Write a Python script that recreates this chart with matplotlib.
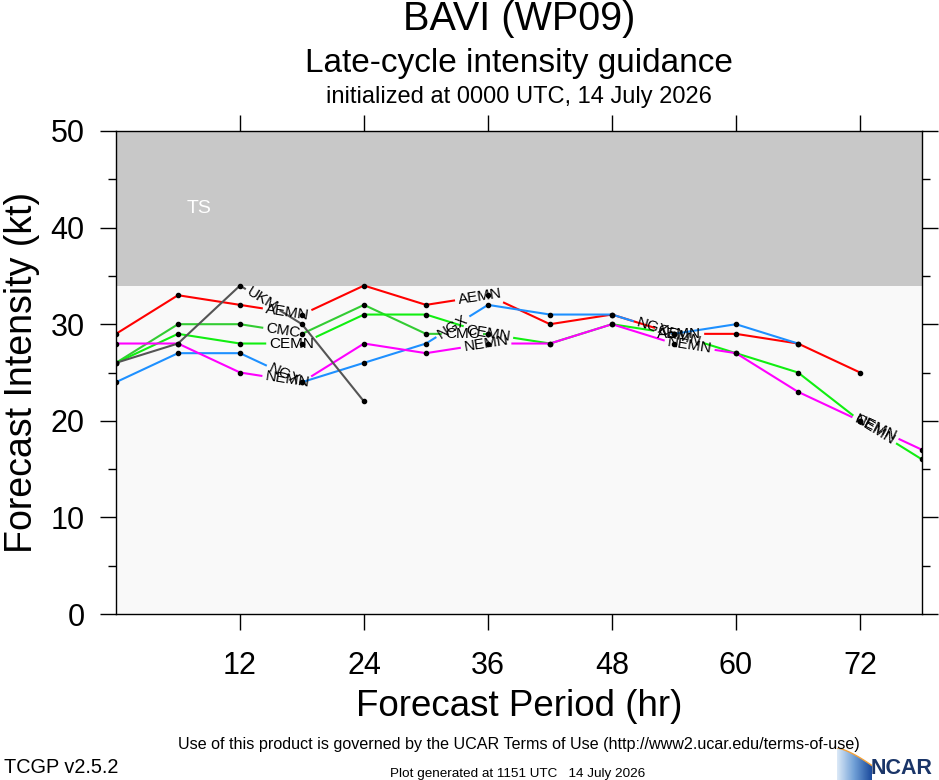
import numpy as np
import matplotlib
matplotlib.use("Agg")
from matplotlib import pyplot as plt
from matplotlib.colors import LinearSegmentedColormap
from matplotlib.patches import Polygon

plt.rcParams["font.family"] = ["Liberation Sans", "DejaVu Sans"]

# forecast hours (every 6 h) and model intensity guidance (kt)
hours = [0, 6, 12, 18, 24, 30, 36, 42, 48, 54, 60, 66, 72, 78]
aemn = [29, 33, 32, 31, 34, 32, 33, 30, 31, 29, 29, 28, 25]
cmc = [26, 30, 30, 29, 32, 29, 29]
cemn = [26, 29, 28, 28, 31, 31, 29, 28, 30, 29, 27, 25, 20, 16]
ngx = [24, 27, 27, 24, 26, 28, 32, 31, 31, 29, 30, 28]
nemn = [28, 28, 25, 24, 28, 27, 28, 28, 30, 28, 27, 23, 20, 17]
ukm = [26, 28, 34, 30, 22]

models = ["AEMN", "CMC", "CEMN", "NGX", "NEMN", "UKM"]
values = [aemn, cmc, cemn, ngx, nemn, ukm]
colors = ["#ff0000", "#33cc33", "#11ee11", "#1e90ff", "#ff00ff", "#555555"]
# forecast hours where the in-line model labels sit
label_hours = [
	[16.6, 35.2, 54.5],
	[16.2, 33.5],
	[17.0, 36.0, 54.5, 73.4],
	[16.3, 32.6, 51.9],
	[16.6, 35.8, 55.5, 73.5],
	[14.2],
]

ts_band = (34, 50)
xticks = [12, 24, 36, 48, 60, 72]
yticks = [0, 10, 20, 30, 40, 50]
yminor = [5, 15, 25, 35, 45]


def draw_labelled_line(ax, fig, x, y, color, name, centres):
	"""
	Draws a line with its name written along it, leaving a gap for each label.
	"""
	renderer = fig.canvas.get_renderer()
	pts = ax.transData.transform(np.column_stack([x, y]))
	seg = np.hypot(*np.diff(pts, axis=0).T)
	s = np.concatenate([[0.0], np.cumsum(seg)])
	inv = ax.transData.inverted()

	cuts = []
	for c in centres:
		sc = np.interp(c, x, s)
		px, py = np.interp(sc, s, pts[:, 0]), np.interp(sc, s, pts[:, 1])
		i = min(np.searchsorted(s, sc, side="right") - 1, len(seg) - 1)
		d = pts[i + 1] - pts[i]
		ang = np.degrees(np.arctan2(d[1], d[0]))
		cx, cy = inv.transform((px, py))
		t = ax.text(cx, cy, name, ha="center", va="center", fontsize=11, rotation_mode="anchor", zorder=6)
		w = t.get_window_extent(renderer).width
		t.set_rotation(ang)
		cuts.append((sc - w / 2 - 3, sc + w / 2 + 3))

	# visible pieces of the line between the labels
	pieces, start = [], 0.0
	for a, b in sorted(cuts):
		if a > start:
			pieces.append((start, a))
		start = max(start, b)
	if start < s[-1]:
		pieces.append((start, s[-1]))

	for a, b in pieces:
		ss = np.concatenate([[a], s[(s > a) & (s < b)], [b]])
		xy = np.column_stack([np.interp(ss, s, pts[:, 0]), np.interp(ss, s, pts[:, 1])])
		dxy = inv.transform(xy)
		ax.plot(dxy[:, 0], dxy[:, 1], color=color, lw=1.5, solid_capstyle="butt", zorder=4)
	ax.plot(x, y, "o", color="k", ms=3.0, zorder=7)


fig = plt.figure(figsize=(9.39, 7.8), dpi=100)
ax = fig.add_axes([116 / 939, 166 / 780, 806 / 939, 483 / 780])
ax.set_xlim(0, 78)
ax.set_ylim(0, 50)
ax.set_facecolor("#f9f9f9")
ax.axhspan(ts_band[0], ts_band[1], color="#c8c8c8", lw=0, zorder=0)
ax.text(8, 42, "TS", color="white", fontsize=14, ha="center", va="center")

for name, vals, col, cen in zip(models, values, colors, label_hours):
	draw_labelled_line(ax, fig, hours[: len(vals)], vals, col, name, cen)

ax.set_xticks(xticks)
ax.set_yticks(yticks)
ax.set_yticks(yminor, minor=True)
ax.tick_params(which="major", direction="out", length=11.5, width=1.0, top=True, right=True, labelsize=22, pad=11)
ax.tick_params(axis="x", which="major", pad=15)
ax.tick_params(axis="y", which="minor", direction="out", length=5.8, width=1.0, right=True)
for sp in ax.spines.values():
	sp.set_linewidth(1.0)

# titles and axis labels
cx = 519 / 939
fig.text(cx, 1 - 30 / 780, "BAVI (WP09)", ha="center", va="baseline", fontsize=28.5)
fig.text(cx, 1 - 72 / 780, "Late-cycle intensity guidance", ha="center", va="baseline", fontsize=24)
fig.text(cx, 1 - 103 / 780, "initialized at 0000 UTC, 14 July 2026", ha="center", va="baseline", fontsize=17)
fig.text(22 / 939, 1 - 372 / 780, "Forecast Intensity (kt)", rotation=90, ha="center", va="center", fontsize=27)
fig.text(cx, 1 - 707 / 780, "Forecast Period (hr)", ha="center", va="center", fontsize=26.5)

# footer
fig.text(cx, 1 - 749 / 780, "Use of this product is governed by the UCAR Terms of Use (http://www2.ucar.edu/terms-of-use)", ha="center", va="baseline", fontsize=11.6)
fig.text(4 / 939, 1 - 773 / 780, "TCGP v2.5.2", ha="left", va="baseline", fontsize=14.3)
fig.text(390 / 939, 1 - 777 / 780, "Plot generated at 1151 UTC   14 July 2026", ha="left", va="baseline", fontsize=9.7)

# NCAR logo
lax = fig.add_axes([837 / 939, 0, 35 / 939, 32 / 780])
lax.set_xlim(0, 1)
lax.set_ylim(0, 1)
lax.axis("off")
t = np.linspace(0, 1, 40)
top = 1 - 0.55 * t ** 1.4
shape = Polygon(np.vstack([np.column_stack([t, top]), [[1, 0], [0, 0]]]), closed=True, transform=lax.transData, fc="none", ec="none")
lax.add_patch(shape)
grad = LinearSegmentedColormap.from_list("ncar", ["#dbe9f7", "#6f9fd6", "#1b4a9c"])
im = lax.imshow(np.linspace(0, 1, 64).reshape(1, -1), cmap=grad, extent=(0, 1, 0, 1), aspect="auto")
im.set_clip_path(shape)
lax.plot(t, top, color="#f3a23c", lw=1.0)
fig.text(871 / 939, 1 - 779 / 780, "NCAR", ha="left", va="bottom", fontsize=15.5, fontweight="bold", color="#1a3568")

fig.savefig("out.png", dpi=100)
plt.close()
